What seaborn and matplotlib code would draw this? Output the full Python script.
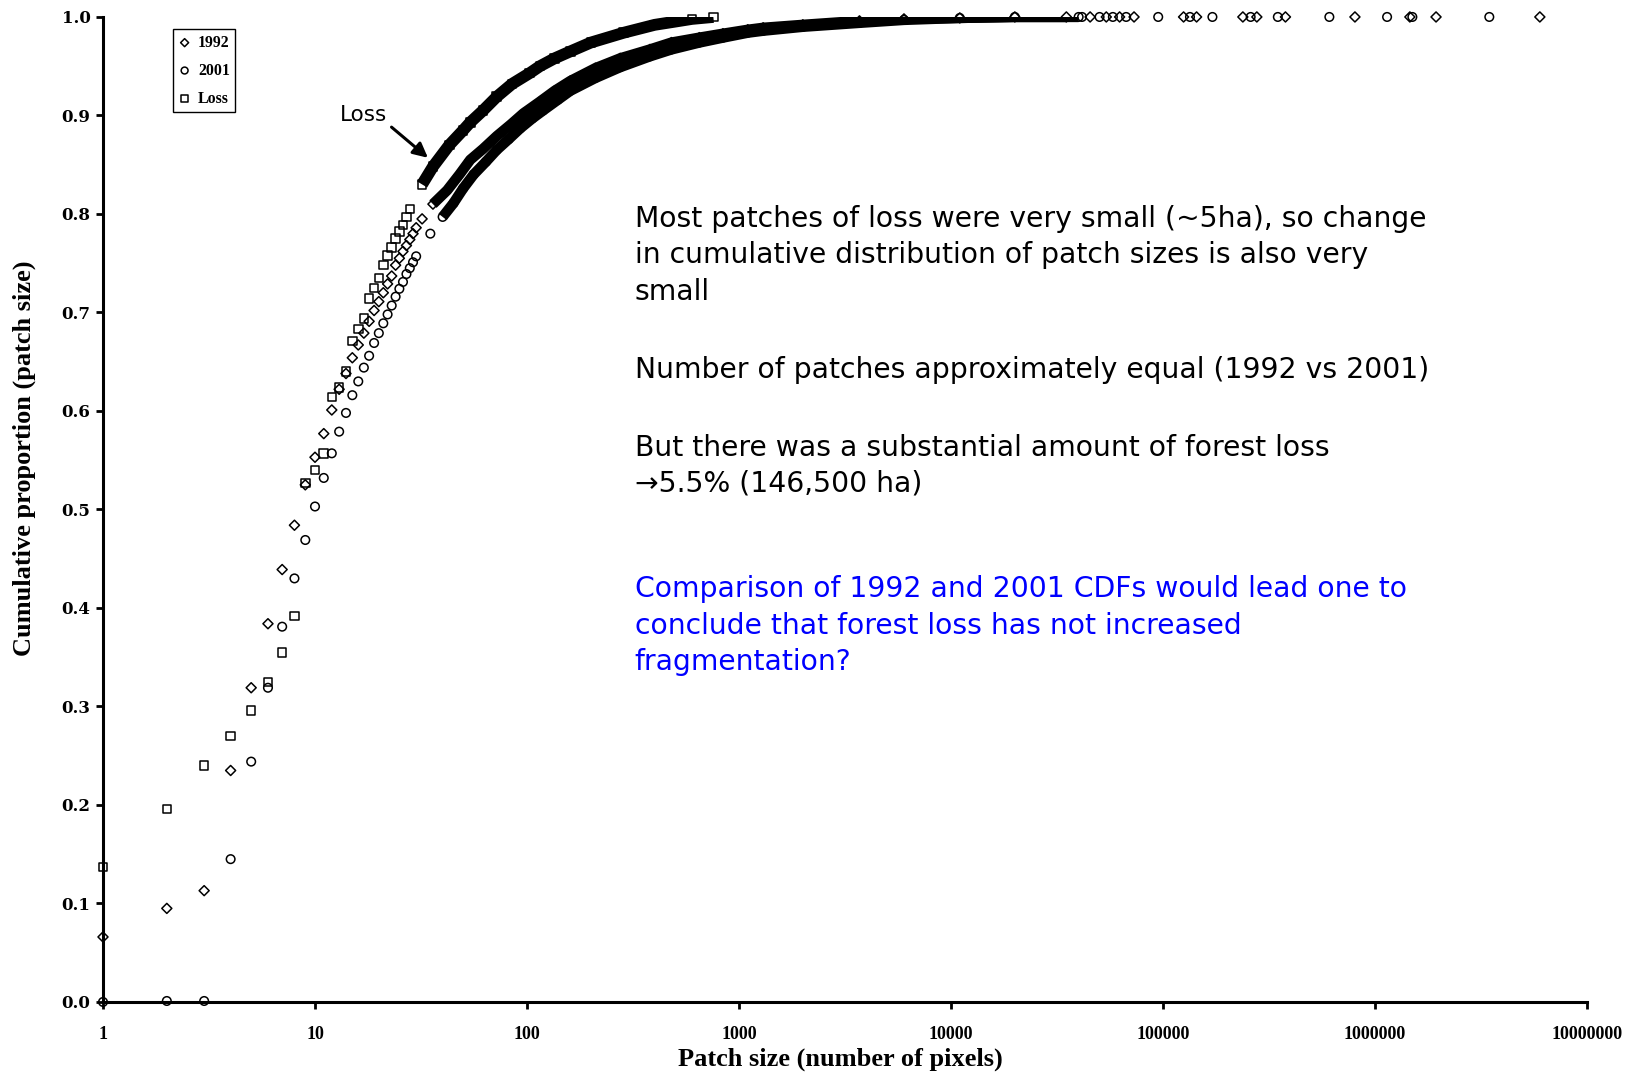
import numpy as np
import pandas as pd
import matplotlib
matplotlib.use("Agg")
import matplotlib.pyplot as plt
import seaborn as sns

# valores (tamanho da mancha em pixels, proporcao acumulada)
size_loss = [1, 2, 3, 4, 5, 6, 7, 8, 9, 10, 11, 12, 13, 14, 15, 16, 17, 18, 19, 20,
             21, 22, 23, 24, 25, 26, 27, 28, 32, 36, 43, 50, 54, 62, 72, 85, 103,
             115, 135, 160, 200, 286, 400, 491, 600, 757]
cdf_loss = [0.137, 0.196, 0.240, 0.270, 0.296, 0.325, 0.355, 0.392, 0.527, 0.540,
            0.557, 0.614, 0.624, 0.640, 0.671, 0.683, 0.694, 0.714, 0.725, 0.735,
            0.748, 0.758, 0.766, 0.775, 0.782, 0.789, 0.797, 0.805, 0.830, 0.848,
            0.870, 0.885, 0.893, 0.905, 0.919, 0.932, 0.943, 0.950, 0.958, 0.965,
            0.974, 0.984, 0.992, 0.995, 0.998, 1.000]

size_1992 = [1, 2, 3, 4, 5, 6, 7, 8, 9, 10, 11, 12, 13, 14, 15, 16, 17, 18, 19, 20,
             21, 22, 23, 24, 25, 26, 27, 28, 29, 30, 32, 36, 42, 48, 54, 62, 72, 84,
             96, 115, 135, 160, 210, 275, 380, 480, 650, 840, 1100, 1300, 2000, 3700,
             6000, 11000, 20000, 35000,
             45300, 54000, 62400, 73000, 125000, 144000, 238000, 277000, 378000,
             804000, 1460000, 1940000, 5990000]
cdf_1992 = [0.066, 0.095, 0.113, 0.235, 0.319, 0.384, 0.439, 0.484, 0.525, 0.553,
            0.577, 0.601, 0.622, 0.638, 0.654, 0.667, 0.679, 0.691, 0.702, 0.711,
            0.720, 0.729, 0.737, 0.748, 0.755, 0.762, 0.768, 0.774, 0.780, 0.786,
            0.795, 0.810, 0.824, 0.840, 0.855, 0.866, 0.879, 0.891, 0.902, 0.914,
            0.925, 0.935, 0.948, 0.958, 0.967, 0.974, 0.979, 0.983, 0.987, 0.989,
            0.992, 0.996, 0.998, 0.999, 1.000, 1.000,
            1.0, 1.0, 1.0, 1.0, 1.0, 1.0, 1.0, 1.0, 1.0, 1.0, 1.0, 1.0, 1.0]

size_2001 = [1, 2, 3, 4, 5, 6, 7, 8, 9, 10, 11, 12, 13, 14, 15, 16, 17, 18, 19, 20,
             21, 22, 23, 24, 25, 26, 27, 28, 29, 30, 35, 40, 45, 50, 56, 64, 72, 82,
             93, 106, 119, 140, 160, 210, 275, 380, 480, 650, 840, 1100, 1300, 2000,
             3700, 6000, 11000, 20000, 40000,
             41500, 50200, 58000, 67000, 94900, 134000, 171000, 259000, 348000,
             609000, 1140000, 1500000, 3460000]
cdf_2001 = [0.000, 0.001, 0.001, 0.145, 0.244, 0.319, 0.381, 0.430, 0.469, 0.503,
            0.532, 0.557, 0.579, 0.598, 0.616, 0.630, 0.644, 0.656, 0.669, 0.679,
            0.689, 0.698, 0.707, 0.716, 0.724, 0.731, 0.739, 0.745, 0.751, 0.757,
            0.780, 0.797, 0.811, 0.826, 0.840, 0.853, 0.865, 0.876, 0.887, 0.897,
            0.905, 0.916, 0.925, 0.938, 0.949, 0.960, 0.967, 0.974, 0.979, 0.984,
            0.986, 0.990, 0.994, 0.997, 0.999, 1.000, 1.000,
            1.0, 1.0, 1.0, 1.0, 1.0, 1.0, 1.0, 1.0, 1.0, 1.0, 1.0, 1.0, 1.0]

x_ticks = [1, 10, 100, 1000, 10000, 100000, 1000000, 10000000]
x_tick_labels = ["1", "10", "100", "1000", "10000", "100000", "1000000", "10000000"]
y_ticks = [0.0, 0.1, 0.2, 0.3, 0.4, 0.5, 0.6, 0.7, 0.8, 0.9, 1.0]
y_tick_labels = ["0.0", "0.1", "0.2", "0.3", "0.4", "0.5", "0.6", "0.7", "0.8", "0.9", "1.0"]

texto1 = ("Most patches of loss were very small (~5ha), so change\n"
          "in cumulative distribution of patch sizes is also very\n"
          "small")
texto2 = "Number of patches approximately equal (1992 vs 2001)"
texto3 = "But there was a substantial amount of forest loss\n\u21925.5% (146,500 ha)"
texto4 = ("Comparison of 1992 and 2001 CDFs would lead one to\n"
          "conclude that forest loss has not increased\n"
          "fragmentation?")

sns.set_style("ticks")
plt.rcParams["font.family"] = ["DejaVu Sans"]
plt.rcParams.update({"text.color": "black", "axes.labelcolor": "black",
                     "xtick.color": "black", "ytick.color": "black",
                     "axes.edgecolor": "black"})

fig = plt.figure(figsize=(16.4, 10.73), dpi=100)
ax = fig.add_axes([0.0628, 0.0662, 0.9049, 0.918])

# (nome, tamanhos, cdf, marcador, area, largura da faixa densa, inicio e fim da faixa)
series = [
    ("1992", size_1992, cdf_1992, "D", 26, 7.5, 36, 35000),
    ("2001", size_2001, cdf_2001, "o", 38, 7.5, 40, 40000),
    ("Loss", size_loss, cdf_loss, "s", 38, 8.5, 32, 757),
]

# partes densas: marcadores sobrepostos formam uma faixa preta
for nome, sz, cdf, mk, area, lw, lo, hi in series:
    df = pd.DataFrame({"size": sz, "cdf": cdf})
    faixa = df[(df["size"] >= lo) & (df["size"] <= hi)]
    sns.lineplot(data=faixa, x="size", y="cdf", ax=ax, color="black", lw=lw,
                 estimator=None, sort=True, legend=False, zorder=2,
                 solid_capstyle="butt", solid_joinstyle="round")

for nome, sz, cdf, mk, area, lw, lo, hi in series:
    sns.scatterplot(x=sz, y=cdf, ax=ax, marker=mk, s=area, color="black",
                    facecolor="none", edgecolor="black", linewidth=1.1,
                    label=nome, clip_on=False, zorder=3)

ax.set_xscale("log")
ax.set_xlim(1, 10000000)
ax.set_ylim(0, 1.0)
ax.minorticks_off()
ax.set_xticks(x_ticks)
ax.set_xticklabels(x_tick_labels, fontfamily="Liberation Serif", fontweight="bold", fontsize=13)
ax.set_yticks(y_ticks)
ax.set_yticklabels(y_tick_labels, fontfamily="DejaVu Serif", fontweight="bold", fontsize=12)
ax.tick_params(axis="x", direction="out", length=5, width=2, color="black", pad=12)
ax.tick_params(axis="y", direction="out", length=5, width=2, color="black", pad=4)

sns.despine(ax=ax)
for lado in ["left", "bottom"]:
    ax.spines[lado].set_linewidth(2.2)
    ax.spines[lado].set_color("black")

ax.set_xlabel("Patch size (number of pixels)", fontfamily="Liberation Serif",
              fontweight="bold", fontsize=19)
ax.set_ylabel("Cumulative proportion (patch size)", fontfamily="Liberation Serif",
              fontweight="bold", fontsize=19)
ax.xaxis.set_label_coords(0.497, -0.046)
ax.yaxis.set_label_coords(-0.045, 0.552)

leg = ax.legend(loc="upper left", bbox_to_anchor=(0.047, 0.9875), frameon=True,
                fancybox=False, edgecolor="black", framealpha=1,
                prop={"family": "Liberation Serif", "weight": "bold", "size": 11.4},
                handlelength=0.8, handletextpad=0.45, borderpad=0.35,
                labelspacing=0.75, borderaxespad=0, markerscale=0.8)
leg.get_frame().set_linewidth(1.0)

ax.annotate("Loss", xy=(34.1, 0.857), xytext=(21.9, 0.900), textcoords="data",
            ha="right", va="center", fontsize=15.5,
            arrowprops=dict(arrowstyle="-|>", color="black", lw=2.2,
                            mutation_scale=22, shrinkA=1, shrinkB=0,
                            relpos=(1.0, 0.1)))

fig.text(0.387, 0.762, texto1, ha="left", va="center", fontsize=20.3, linespacing=1.38)
fig.text(0.387, 0.655, texto2, ha="left", va="center", fontsize=20.3, linespacing=1.38)
fig.text(0.387, 0.566, texto3, ha="left", va="center", fontsize=20.3, linespacing=1.38)
fig.text(0.387, 0.417, texto4, ha="left", va="center", fontsize=20.3, linespacing=1.38,
         color="#0000ff")

fig.savefig("out.png", dpi=100, facecolor="white")
